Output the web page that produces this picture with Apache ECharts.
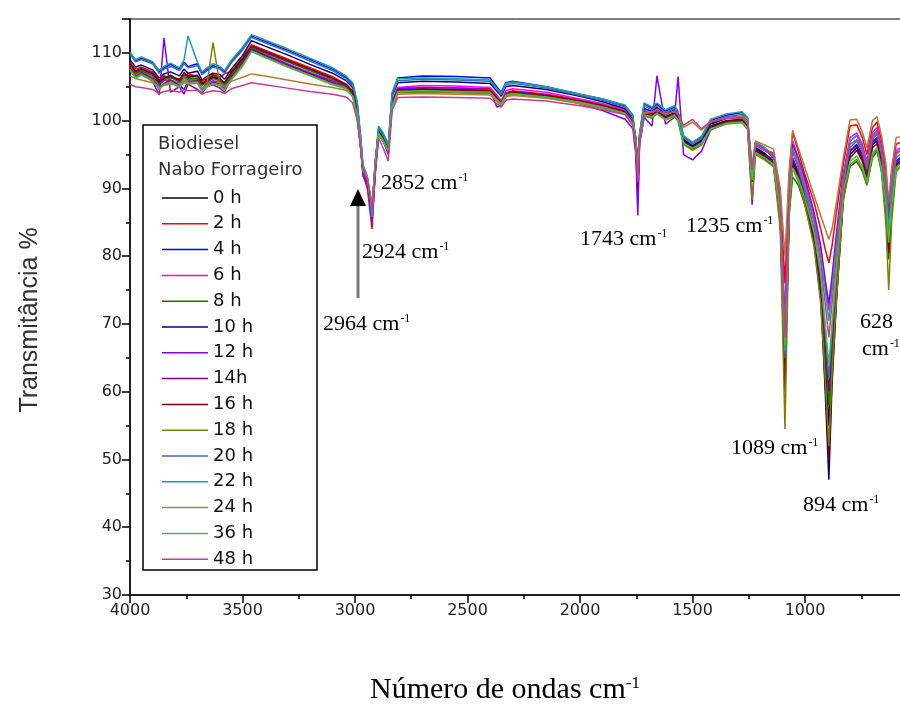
<!DOCTYPE html>
<html>
<head>
<meta charset="utf-8">
<script src="https://cdn.jsdelivr.net/npm/echarts@6/dist/echarts.min.js"></script>
<style>
  html, body { margin: 0; padding: 0; background: #fff; }
  #chart { width: 900px; height: 704px; }
</style>
</head>
<body>
<div id="chart"></div>
<script>
// numero de ondas (cm-1), shared by every spectrum
var wavenumbers = [
  4000, 3975, 3950, 3900, 3870, 3849, 3820, 3780, 3760, 3742, 3700, 3680, 3660, 3631, 3600, 3580, 3550, 3500, 3460, 3400, 3300, 3200, 3100, 3040, 3010,
  2990, 2975, 2964, 2945, 2924, 2910, 2895, 2875, 2852, 2835, 2810, 2700, 2550, 2400, 2370, 2350, 2330, 2300, 2150, 2000,
  1900, 1800, 1765, 1752, 1743, 1735, 1715, 1680, 1658, 1620, 1580, 1564, 1540, 1500, 1460, 1420, 1350, 1280, 1255, 1235,
  1220, 1180, 1140, 1110, 1089, 1070, 1055, 1030, 1000, 960, 930, 910, 894, 880, 860, 830, 800, 770, 745, 725,
  700, 680, 660, 640, 628, 615, 595, 578
];

var h0 = [
  108.4, 107.2, 107.6, 106.9, 105.6, 106.2, 106.7, 105.9, 107.0, 106.4, 106.6, 105.4, 105.8, 106.4, 106.1, 105.5, 107.0, 109.0, 111.0, 110.2, 108.9, 107.6, 106.3, 105.3, 104.2,
  101.0, 96.5, 92.5, 91.0, 86.5, 93.0, 98.0, 97.0, 95.5, 102.5, 104.6, 104.7, 104.6, 104.5, 103.4, 102.8, 104.0, 104.3, 103.8, 103.0,
  102.3, 101.4, 99.8, 97.5, 93.0, 97.5, 101.2, 101.0, 101.5, 100.6, 101.2, 100.4, 97.0, 96.2, 97.0, 99.2, 100.0, 100.2, 99.2, 91.5,
  95.8, 95.0, 94.0, 86.0, 63.0, 88.0, 94.0, 92.5, 89.0, 83.5, 76.0, 65.0, 55.0, 65.0, 75.0, 89.5, 95.0, 96.0, 94.5, 92.0,
  96.5, 97.0, 94.0, 88.0, 80.5, 88.0, 93.5, 94.0
];
var h2 = [
  108.6, 107.6, 107.9, 107.2, 106.0, 106.6, 106.3, 106.2, 105.6, 106.9, 106.5, 105.8, 106.2, 106.8, 106.4, 106.9, 107.3, 109.3, 111.2, 110.4, 109.1, 107.8, 106.5, 105.4, 104.4,
  101.5, 96.0, 92.0, 90.0, 84.0, 92.5, 98.0, 97.5, 95.0, 102.8, 104.8, 104.9, 104.8, 104.7, 103.6, 102.6, 104.1, 104.4, 103.9, 103.1,
  102.4, 101.6, 100.0, 96.5, 94.5, 97.8, 101.4, 101.2, 101.8, 100.9, 101.4, 100.7, 97.6, 96.8, 97.6, 99.5, 100.3, 100.5, 99.6, 93.0,
  96.4, 95.8, 95.2, 89.0, 76.0, 92.0, 98.2, 95.5, 92.0, 88.0, 84.0, 81.0, 79.0, 81.5, 86.5, 93.5, 99.2, 99.4, 97.5, 95.0,
  99.0, 99.8, 97.0, 92.5, 86.0, 92.0, 96.5, 96.8
];
var h4 = [
  110.0, 108.8, 109.2, 108.6, 107.2, 107.8, 108.3, 107.6, 108.6, 108.0, 108.4, 107.0, 107.5, 108.1, 107.8, 107.2, 108.7, 110.6, 112.5, 111.7, 110.4, 109.0, 107.6, 106.4, 105.4,
  102.5, 97.5, 93.0, 91.5, 87.0, 94.0, 99.0, 98.0, 96.5, 104.0, 106.3, 106.6, 106.5, 106.3, 105.0, 104.2, 105.6, 105.8, 105.0, 103.9,
  103.2, 102.2, 100.8, 96.0, 88.0, 98.0, 102.5, 101.8, 102.4, 101.4, 102.0, 101.2, 97.5, 96.0, 97.2, 100.0, 100.8, 101.2, 100.4, 91.0,
  96.8, 96.0, 94.5, 86.0, 61.0, 88.0, 94.5, 92.0, 88.5, 83.0, 75.0, 62.0, 51.0, 63.5, 74.5, 89.0, 95.5, 96.5, 95.0, 92.5,
  97.0, 97.5, 94.5, 88.5, 82.0, 88.5, 94.0, 94.5
];
var h6 = [
  108.0, 106.8, 107.3, 106.4, 105.2, 105.9, 106.0, 105.5, 106.5, 106.0, 106.1, 104.8, 105.4, 105.9, 105.7, 105.0, 106.6, 108.7, 110.7, 109.8, 108.4, 107.1, 105.9, 105.2, 104.0,
  101.0, 96.0, 92.0, 90.5, 85.5, 92.5, 98.2, 97.3, 95.0, 102.8, 104.9, 105.2, 105.1, 104.9, 103.8, 102.9, 104.4, 104.7, 104.2, 103.2,
  102.5, 101.6, 100.0, 96.8, 92.5, 97.6, 101.5, 101.3, 101.9, 100.9, 101.5, 100.6, 97.4, 96.5, 97.3, 99.5, 100.4, 100.6, 99.7, 92.5,
  96.3, 95.6, 94.9, 88.0, 70.0, 91.0, 97.0, 94.5, 91.0, 86.0, 81.0, 76.0, 72.0, 76.0, 83.0, 92.0, 97.5, 98.2, 96.5, 94.0,
  98.2, 99.0, 96.2, 91.0, 85.0, 91.0, 95.6, 96.0
];
var h8 = [
  108.2, 107.0, 107.4, 106.7, 105.4, 106.0, 106.4, 105.7, 106.8, 106.2, 106.3, 105.2, 105.6, 106.2, 105.9, 105.3, 106.8, 108.8, 110.8, 110.0, 108.7, 107.4, 106.1, 105.1, 104.0,
  101.0, 96.8, 92.8, 91.5, 87.5, 93.5, 98.3, 97.4, 96.0, 102.5, 104.4, 104.5, 104.4, 104.3, 103.3, 102.7, 103.9, 104.1, 103.6, 102.8,
  102.1, 101.2, 99.6, 97.4, 93.5, 97.3, 100.9, 100.7, 101.2, 100.3, 100.9, 100.2, 96.8, 96.0, 96.8, 98.9, 99.7, 99.8, 98.9, 91.0,
  95.2, 94.4, 93.3, 85.5, 64.0, 86.5, 91.7, 90.5, 87.5, 82.0, 75.5, 66.0, 58.0, 66.0, 75.5, 88.5, 93.2, 94.0, 92.5, 90.5,
  94.5, 95.5, 92.5, 86.5, 79.5, 86.5, 92.5, 93.2
];
var h10 = [
  109.0, 107.9, 108.2, 107.5, 106.3, 106.9, 107.2, 106.6, 107.6, 107.0, 107.3, 106.0, 106.5, 107.0, 106.8, 106.1, 107.6, 109.6, 111.8, 111.0, 109.7, 108.3, 107.0, 105.9, 104.9,
  102.0, 97.0, 92.5, 91.2, 87.0, 93.5, 98.6, 97.6, 96.0, 103.6, 105.6, 105.8, 105.7, 105.5, 104.4, 103.6, 105.0, 105.2, 104.6, 103.6,
  102.8, 101.8, 100.3, 97.2, 92.0, 97.8, 101.8, 101.4, 102.0, 101.0, 101.6, 100.8, 97.2, 96.3, 97.1, 99.5, 100.4, 100.6, 99.7, 91.5,
  96.0, 95.2, 94.0, 85.5, 62.0, 87.5, 94.0, 92.0, 88.5, 82.5, 74.0, 60.0, 47.0, 61.0, 73.5, 88.5, 95.0, 96.0, 94.5, 92.0,
  96.5, 97.0, 94.0, 87.5, 80.5, 87.5, 93.5, 94.0
];
var h12 = [
  107.9, 106.2, 107.0, 105.8, 103.8, 112.2, 104.2, 105.0, 103.9, 105.4, 104.6, 104.0, 105.0, 105.3, 104.8, 104.2, 106.4, 108.5, 110.6, 109.7, 108.3, 107.0, 105.8, 105.0, 103.9,
  100.8, 96.0, 91.8, 90.6, 85.0, 92.0, 98.0, 97.0, 95.2, 102.6, 104.7, 104.9, 104.8, 104.6, 102.0, 102.2, 103.8, 104.3, 103.8, 102.5,
  101.5, 100.2, 98.8, 95.0, 86.0, 96.5, 100.5, 99.2, 106.6, 99.5, 100.5, 106.5, 95.0, 94.2, 95.5, 98.6, 99.6, 100.0, 98.8, 87.6,
  95.5, 94.8, 94.5, 88.0, 70.0, 90.5, 96.5, 94.5, 91.5, 86.5, 81.5, 76.5, 73.0, 77.0, 83.5, 92.0, 97.0, 97.8, 96.0, 93.5,
  97.8, 98.5, 95.8, 90.5, 84.5, 90.5, 95.2, 95.6
];
var h14 = [
  107.8, 106.5, 107.1, 106.2, 104.8, 105.5, 106.0, 105.2, 104.6, 105.8, 105.9, 104.4, 105.1, 105.7, 105.4, 104.7, 106.4, 108.5, 110.5, 109.6, 108.2, 106.9, 105.6, 104.8, 103.7,
  100.6, 96.2, 92.4, 91.0, 86.5, 93.0, 98.0, 97.0, 95.4, 102.2, 104.2, 104.3, 104.2, 104.1, 103.0, 102.4, 103.7, 104.0, 103.5, 102.7,
  102.0, 101.1, 99.5, 96.0, 90.0, 97.0, 100.8, 100.6, 101.2, 100.3, 100.8, 100.1, 96.6, 95.8, 96.6, 98.9, 99.7, 99.9, 99.0, 91.0,
  95.4, 94.6, 93.8, 86.0, 63.0, 88.0, 94.5, 92.5, 89.0, 83.5, 76.5, 67.0, 60.0, 67.0, 77.0, 90.0, 95.5, 96.3, 94.8, 92.3,
  96.8, 97.3, 94.3, 88.5, 81.5, 88.5, 93.8, 94.3
];
var h16 = [
  108.4, 107.3, 107.7, 107.0, 105.8, 106.4, 106.6, 106.0, 107.1, 106.6, 106.7, 105.5, 106.0, 106.6, 106.2, 105.6, 107.1, 109.1, 111.0, 110.2, 108.9, 107.6, 106.3, 105.3, 104.2,
  101.2, 96.6, 92.6, 91.2, 86.8, 93.2, 98.2, 97.2, 95.6, 102.6, 104.5, 104.6, 104.5, 104.4, 103.3, 102.7, 103.9, 104.2, 103.7, 102.9,
  102.2, 101.3, 99.7, 97.0, 92.5, 97.2, 101.0, 100.8, 101.4, 100.5, 101.0, 100.3, 96.8, 96.0, 96.8, 99.0, 99.9, 100.1, 99.1, 91.0,
  95.6, 94.8, 93.8, 85.0, 60.0, 87.0, 93.5, 91.8, 88.0, 82.0, 73.5, 61.0, 50.0, 62.0, 74.0, 88.5, 94.5, 95.6, 94.0, 91.5,
  96.0, 96.6, 93.5, 87.0, 80.5, 87.5, 93.3, 93.8
];
var h18 = [
  107.6, 106.4, 106.9, 106.0, 104.6, 105.4, 105.7, 105.0, 106.4, 105.6, 105.7, 104.3, 105.0, 111.5, 105.2, 104.5, 106.2, 108.2, 110.3, 109.4, 108.0, 106.7, 105.4, 104.9, 103.6,
  100.5, 96.3, 92.8, 91.4, 87.5, 93.5, 98.0, 97.0, 95.6, 102.0, 104.1, 104.2, 104.1, 104.0, 102.9, 102.3, 103.6, 103.9, 103.4, 102.6,
  101.9, 101.0, 99.3, 96.6, 91.5, 96.8, 100.6, 100.4, 101.0, 100.1, 100.6, 99.9, 96.5, 95.6, 96.4, 98.7, 99.5, 99.7, 98.7, 88.3,
  95.0, 94.2, 93.2, 84.0, 54.5, 86.0, 93.0, 91.0, 87.5, 81.5, 73.0, 62.0, 52.0, 63.0, 74.0, 88.0, 93.5, 94.3, 92.8, 90.5,
  94.8, 95.8, 92.5, 84.5, 75.0, 85.0, 92.5, 93.2
];
var h20 = [
  109.8, 108.7, 109.0, 108.4, 107.0, 107.6, 108.0, 107.4, 108.4, 107.8, 108.1, 106.8, 107.3, 107.9, 107.6, 107.0, 108.5, 110.4, 112.3, 111.5, 110.2, 108.8, 107.4, 106.2, 105.2,
  102.3, 97.3, 92.8, 91.4, 86.8, 93.8, 98.8, 97.8, 96.2, 103.8, 105.9, 106.1, 106.0, 105.8, 104.6, 103.9, 105.3, 105.5, 104.8, 103.7,
  103.0, 102.0, 100.5, 97.0, 92.0, 97.9, 102.2, 101.6, 102.2, 101.2, 101.8, 101.0, 97.5, 96.5, 97.4, 99.8, 100.6, 100.9, 100.0, 92.0,
  96.5, 95.7, 94.6, 86.5, 65.0, 88.5, 95.5, 93.0, 89.5, 84.0, 77.0, 69.0, 62.0, 69.0, 78.0, 90.5, 96.0, 97.0, 95.3, 92.8,
  97.3, 98.0, 95.0, 89.5, 83.0, 89.5, 94.5, 95.0
];
var h22 = [
  110.1, 109.0, 109.4, 108.7, 107.4, 108.0, 108.5, 107.8, 108.9, 112.5, 108.6, 107.2, 107.7, 108.4, 108.0, 107.4, 108.9, 110.8, 112.7, 111.9, 110.6, 109.2, 107.8, 106.6, 105.6,
  102.8, 97.8, 93.5, 91.8, 85.8, 93.5, 99.2, 98.2, 96.5, 104.2, 106.2, 106.3, 106.2, 106.0, 104.8, 104.0, 105.5, 105.7, 105.0, 103.9,
  103.2, 102.3, 100.7, 97.2, 92.5, 98.2, 102.6, 102.0, 102.6, 101.6, 102.2, 101.4, 97.8, 96.8, 97.7, 100.2, 101.0, 101.3, 100.4, 92.5,
  96.8, 96.0, 95.0, 87.0, 66.0, 89.5, 96.0, 94.0, 90.5, 85.5, 80.0, 75.0, 70.5, 75.0, 82.0, 91.5, 97.0, 97.8, 96.0, 93.5,
  97.8, 98.5, 95.6, 90.0, 83.5, 90.0, 95.0, 95.5
];
var h24 = [
  106.6, 106.2, 106.0, 105.6, 104.9, 105.2, 105.4, 105.1, 105.6, 105.4, 105.5, 104.8, 105.1, 105.4, 105.3, 105.0, 105.8, 106.4, 106.9, 106.6, 106.0, 105.4, 104.9, 104.5, 103.6,
  100.8, 96.5, 92.8, 91.5, 87.2, 93.0, 98.0, 97.0, 95.5, 102.0, 103.9, 104.0, 103.9, 103.8, 102.9, 102.3, 103.5, 103.7, 103.3, 102.5,
  101.8, 101.0, 99.6, 97.0, 92.0, 97.4, 101.2, 101.3, 101.6, 101.0, 101.4, 101.0, 99.0, 99.8, 98.6, 99.8, 100.4, 100.6, 99.8, 93.5,
  97.0, 96.4, 95.8, 90.0, 80.0, 93.0, 98.6, 96.0, 93.0, 89.0, 86.0, 84.0, 82.5, 84.0, 88.0, 94.5, 100.1, 100.2, 98.3, 96.0,
  100.0, 100.6, 97.8, 93.5, 88.0, 93.0, 97.5, 97.6
];
var h36 = [
  107.4, 106.3, 106.7, 105.9, 104.6, 105.3, 105.6, 104.9, 106.0, 105.5, 105.6, 104.3, 104.9, 105.5, 105.1, 104.5, 106.0, 108.0, 110.2, 109.3, 107.9, 106.6, 105.3, 104.7, 103.5,
  100.4, 96.2, 92.6, 91.3, 87.2, 93.3, 98.1, 97.1, 95.5, 102.2, 104.3, 104.4, 104.3, 104.2, 103.1, 102.5, 103.8, 104.0, 103.5, 102.7,
  102.0, 101.1, 99.5, 96.8, 92.8, 97.1, 100.8, 100.6, 101.1, 100.2, 100.8, 100.1, 96.7, 95.9, 96.7, 98.8, 99.6, 99.8, 98.9, 91.2,
  95.3, 94.5, 93.6, 86.5, 67.0, 88.0, 93.0, 91.5, 88.5, 83.5, 77.5, 70.0, 64.0, 70.0, 78.0, 89.5, 94.0, 94.8, 93.2, 91.0,
  95.2, 96.0, 93.0, 87.5, 82.0, 87.5, 93.0, 93.6
];
var h48 = [
  105.4, 105.0, 104.9, 104.6, 104.0, 104.3, 104.5, 104.2, 104.6, 104.4, 104.5, 103.9, 104.2, 104.4, 104.3, 104.0, 104.7, 105.2, 105.6, 105.3, 104.8, 104.3, 103.9, 103.5, 102.6,
  100.0, 96.0, 92.6, 91.4, 87.0, 92.5, 97.4, 96.0, 94.0, 101.5, 103.4, 103.5, 103.4, 103.3, 102.5, 102.0, 103.0, 103.2, 102.9, 102.2,
  101.6, 100.9, 99.3, 96.2, 91.0, 97.0, 101.0, 101.2, 101.5, 100.9, 101.3, 101.0, 99.3, 100.2, 98.8, 99.9, 100.3, 100.4, 99.6, 92.8,
  96.4, 95.8, 95.0, 88.0, 68.0, 90.0, 95.5, 93.5, 90.0, 85.0, 79.0, 73.0, 68.0, 73.0, 80.5, 91.0, 96.5, 97.2, 95.6, 93.2,
  97.5, 98.3, 95.4, 91.0, 88.0, 91.0, 95.2, 95.5
];

var seriesNames = ['0 h', '2 h', '4 h', '6 h', '8 h', '10 h', '12 h', '14h', '16 h', '18 h', '20 h', '22 h', '24 h', '36 h', '48 h'];
var seriesValues = [h0, h2, h4, h6, h8, h10, h12, h14, h16, h18, h20, h22, h24, h36, h48];
var colors = ['#000000', '#FF0000', '#0000FF', '#FF00FF', '#008000', '#000080', '#8000FF', '#800080',
              '#800000', '#808000', '#3D6DB5', '#1E9E9E', '#B47A3E', '#3CC048', '#C2408A'];

// picos marcados
var peakLabels = [
  { text: '2852', x: 381, y: 184 },
  { text: '2924', x: 362, y: 253 },
  { text: '2964', x: 323, y: 325 },
  { text: '1743', x: 580, y: 240 },
  { text: '1235', x: 686, y: 227 },
  { text: '1089', x: 731, y: 449 },
  { text: '894', x: 803, y: 506 }
];

var chart = echarts.init(document.getElementById('chart'));

var series = seriesNames.map(function (name, k) {
  return {
    name: name,
    type: 'line',
    symbol: 'none',
    color: colors[k],
    lineStyle: { width: 1.5 },
    data: wavenumbers.map(function (w, i) { return [w, seriesValues[k][i]]; })
  };
});

var serif = '"Liberation Serif", "Times New Roman", serif';
var sans = '"Liberation Sans", Arial, sans-serif';
var wide = '"DejaVu Sans", sans-serif';
var supRich = {
  a: { fontFamily: serif, fontSize: 22, color: '#111' },
  s: { fontFamily: serif, fontSize: 12, color: '#111', verticalAlign: 'top', padding: [0, 0, 0, 1] }
};

var graphics = peakLabels.map(function (p) {
  return {
    type: 'text', left: p.x, top: p.y - 12, z: 20,
    style: { text: '{a|' + p.text + ' cm}{s|-1}', rich: supRich }
  };
});
graphics.push(
  { type: 'text', left: 860, top: 311, z: 20, style: { text: '{a|628}', rich: supRich } },
  { type: 'text', left: 862, top: 338, z: 20, style: { text: '{a|cm}{s|-1}', rich: supRich } },
  // seta 2964
  { type: 'line', z: 20, shape: { x1: 358, y1: 298, x2: 358, y2: 204 }, style: { stroke: '#777', lineWidth: 3 } },
  { type: 'polygon', z: 20, shape: { points: [[358, 189], [350, 206], [366, 206]] }, style: { fill: '#000' } },
  // caixa da legenda
  { type: 'rect', z: 10, shape: { x: 143, y: 125, width: 174, height: 445 }, style: { fill: 'transparent', stroke: '#000', lineWidth: 1.5 } },
  { type: 'text', x: 158, y: 144, z: 20, style: { text: 'Biodiesel', font: '18px ' + wide, fill: '#333', verticalAlign: 'middle' } },
  { type: 'text', x: 158, y: 170, z: 20, style: { text: 'Nabo Forrageiro', font: '18px ' + wide, fill: '#333', verticalAlign: 'middle' } },
  // titulo do eixo y
  {
    type: 'text', x: 30, y: 320, rotation: Math.PI / 2, z: 20,
    style: { text: 'Transmitância %', font: '25px ' + sans, fill: '#333', align: 'center', verticalAlign: 'middle' }
  },
  // titulo do eixo x
  {
    type: 'text', left: 370, top: 675, z: 20,
    style: {
      text: '{a|Número de ondas cm}{s|-1}',
      rich: {
        a: { fontFamily: serif, fontSize: 30, color: '#111' },
        s: { fontFamily: serif, fontSize: 17, color: '#111', verticalAlign: 'top' }
      }
    }
  }
);

option = {
  animation: false,
  backgroundColor: '#fff',
  grid: {
    left: 130, top: 19, width: 787.5, height: 576,
    outerBoundsMode: 'none',
    show: true, borderColor: '#000', borderWidth: 1
  },
  legend: {
    orient: 'vertical',
    left: 157,
    top: 184,
    icon: 'rect',
    itemWidth: 46,
    itemHeight: 1.5,
    itemGap: 7.8,
    data: seriesNames,
    textStyle: { fontFamily: wide, fontSize: 18, color: '#111' }
  },
  xAxis: {
    type: 'value',
    inverse: true,
    min: 500,
    max: 4000,
    interval: 500,
    axisLine: { onZero: false, lineStyle: { color: '#000', width: 1.5 } },
    axisTick: { length: 8, lineStyle: { color: '#000', width: 1.5 } },
    minorTick: { show: true, splitNumber: 2, length: 4, lineStyle: { color: '#000', width: 1.5 } },
    splitLine: { show: false },
    axisLabel: {
      margin: 8, fontFamily: wide, fontSize: 16, color: '#222',
      formatter: function (v) { return v === 500 ? '' : String(v); }
    }
  },
  yAxis: {
    type: 'value',
    min: 30,
    max: 115,
    interval: 10,
    axisLine: { show: true, lineStyle: { color: '#000', width: 1.5 } },
    axisTick: { length: 8, lineStyle: { color: '#000', width: 1.5 } },
    minorTick: { show: true, splitNumber: 2, length: 4, lineStyle: { color: '#000', width: 1.5 } },
    splitLine: { show: false },
    axisLabel: { margin: 8, fontFamily: wide, fontSize: 16, color: '#222', showMaxLabel: false }
  },
  graphic: graphics,
  series: series
};

chart.setOption(option);
</script>
</body>
</html>
